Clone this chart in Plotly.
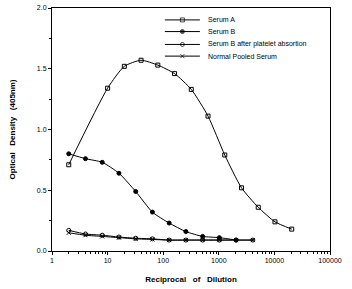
import plotly.graph_objects as go

dil_a = [2, 10, 20, 40, 80, 160, 320, 640, 1280, 2560, 5120, 10240, 20480]
serum_a = [0.71, 1.34, 1.52, 1.57, 1.53, 1.46, 1.33, 1.11, 0.79, 0.52, 0.36, 0.24, 0.18]

dil_b = [2, 4, 8, 16, 32, 64, 128, 256, 512, 1024, 2048]
serum_b = [0.80, 0.76, 0.73, 0.64, 0.49, 0.32, 0.23, 0.16, 0.12, 0.11, 0.09]

dil_c = [2, 4, 8, 16, 32, 64, 128, 256, 512, 1024, 2048, 4096]
serum_b_abs = [0.17, 0.14, 0.13, 0.115, 0.105, 0.10, 0.09, 0.09, 0.09, 0.09, 0.09, 0.09]
normal_pooled = [0.15, 0.13, 0.12, 0.11, 0.10, 0.095, 0.09, 0.09, 0.09, 0.09, 0.09, 0.09]

names = ["Serum A", "Serum B", "Serum B after platelet absortion", "Normal Pooled Serum"]
symbols = ["square-open", "circle", "circle-open", "x-thin-open"]

fig = go.Figure()
series = [(dil_a, serum_a), (dil_b, serum_b), (dil_c, serum_b_abs), (dil_c, normal_pooled)]
for (x, y), nm, sym in zip(series, names, symbols):
    fig.add_trace(go.Scatter(
        x=x, y=y, name=nm, mode="lines+markers", showlegend=False,
        line=dict(color="black", width=1, shape="spline", smoothing=0.6),
        marker=dict(symbol=sym, size=4, color="black", line=dict(color="black", width=1)),
    ))

# manual compact legend (overlay axes in 0..1 plot-fraction space)
leg_y = [0.951, 0.903, 0.850, 0.802]
x0, x1, xt = 0.406, 0.532, 0.554
for yy, nm, sym in zip(leg_y, names, symbols):
    fig.add_trace(go.Scatter(
        x=[x0, (x0 + x1) / 2, x1], y=[yy, yy, yy], xaxis="x2", yaxis="y2",
        mode="lines+markers", showlegend=False, hoverinfo="skip",
        line=dict(color="black", width=1),
        marker=dict(symbol=["circle", sym, "circle"], size=[0, 4, 0], color="black",
                    line=dict(color="black", width=1)),
    ))
    fig.add_annotation(x=xt, y=yy, xref="x2", yref="y2", text=nm, showarrow=False,
                       xanchor="left", yanchor="middle", font=dict(size=7, color="black"))

font = "Liberation Sans, Arial, sans-serif"
fig.update_layout(
    width=352, height=289,
    margin=dict(l=52, r=22, t=4, b=38),
    paper_bgcolor="white", plot_bgcolor="white",
    font=dict(family=font, size=7, color="black"),
    showlegend=False,
    xaxis=dict(type="log", range=[0, 5], showgrid=False, zeroline=False,
               showline=True, linecolor="black", linewidth=1, mirror=True,
               ticks="outside", ticklen=3, tickcolor="black",
               tickvals=[1, 10, 100, 1000, 10000, 100000],
               ticktext=["1", "10", "100", "1000", "10000", "100000"],
               minor=dict(ticks="outside", ticklen=2, tickcolor="black",
                          tickvals=[m * 10 ** e for e in range(5) for m in range(2, 10)]),
               title=dict(text="<b>Reciprocal   of   Dilution</b>", font=dict(size=8, color="black"), standoff=12),
               tickfont=dict(size=7, color="black")),
    yaxis=dict(range=[0, 2], showgrid=False, zeroline=False,
               showline=True, linecolor="black", linewidth=1, mirror=True,
               ticks="outside", ticklen=3, tickcolor="black",
               tickvals=[0, 0.5, 1.0, 1.5, 2.0],
               ticktext=["0.0", "0.5", "1.0", "1.5", "2.0"],
               minor=dict(ticks="outside", ticklen=2, tickcolor="black",
                          tickvals=[0.25, 0.75, 1.25, 1.75]),
               title=dict(text="<b>Optical   Density   (405nm)</b>", font=dict(size=8, color="black"), standoff=20),
               tickfont=dict(size=7, color="black")),
    xaxis2=dict(overlaying="x", range=[0, 1], visible=False),
    yaxis2=dict(overlaying="y", range=[0, 1], visible=False),
)

fig.write_html("out.html")
